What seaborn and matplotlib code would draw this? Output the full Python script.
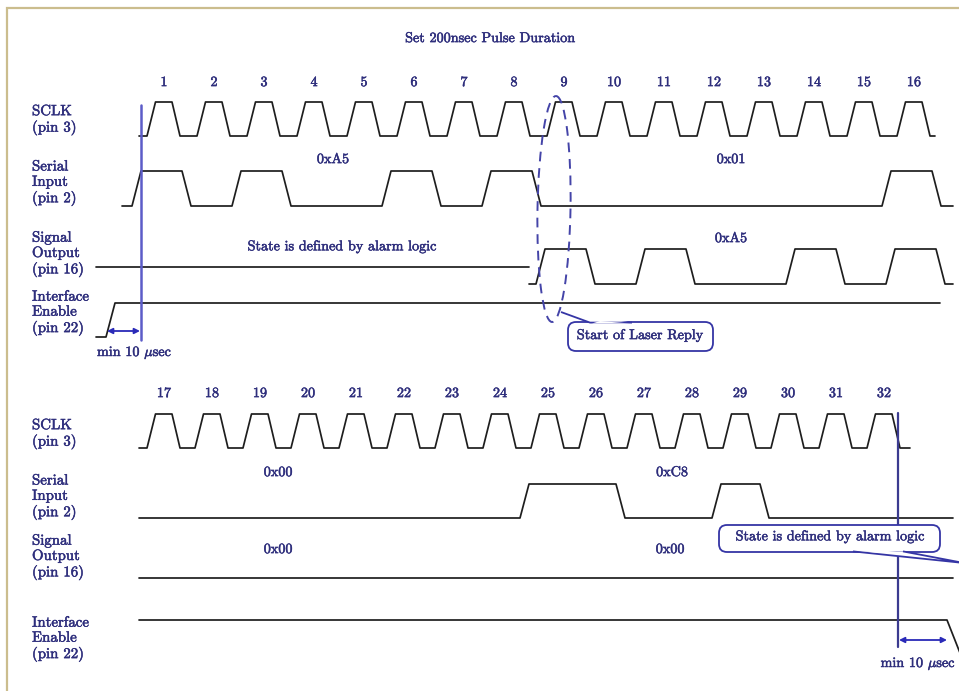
import numpy as np
import pandas as pd
import matplotlib
matplotlib.use("Agg")
import matplotlib.pyplot as plt
import matplotlib.patheffects as pe
import seaborn as sns
from matplotlib.patches import Ellipse, FancyBboxPatch, Polygon

# ---------------- data ----------------
title = "Set 200nsec Pulse Duration"
clock_top = list(range(1, 17))
clock_bottom = list(range(17, 33))
serial_in_top = [1, 0, 1, 0, 0, 1, 0, 1, 0, 0, 0, 0, 0, 0, 0, 1]      # 0xA5, 0x01
signal_out_top = [1, 0, 1, 0, 0, 1, 0, 1]                              # 0xA5 (clocks 9..16)
serial_in_bottom = [0, 0, 0, 0, 0, 0, 0, 0, 1, 1, 0, 0, 1, 0, 0, 0]   # 0x00, 0xC8
signal_out_bottom = [0] * 16                                           # 0x00, 0x00
bytes_in_top = ["0xA5", "0x01"]
bytes_out_top = ["0xA5"]
bytes_in_bottom = ["0x00", "0xC8"]
bytes_out_bottom = ["0x00", "0x00"]
signal_names = ["SCLK\n(pin 3)", "Serial\nInput\n(pin 2)",
                "Signal\nOutput\n(pin 16)", "Interface\nEnable\n(pin 22)"]
alarm_text = "State is defined by alarm logic"
reply_text = "Start of Laser Reply"
min_text = r"min 10 $\mu$sec"

# ---------------- style ----------------
sns.set_theme(style="white")
plt.rcParams["font.family"] = ["cmr10", "DejaVu Serif"]
plt.rcParams["mathtext.fontset"] = "cm"
plt.rcParams["axes.unicode_minus"] = False

NAVY = "#2e2e7c"
WAVE = "#1e1e1e"
BLUE = "#2a2ab8"
FS = 10.2
FS_NAME = 10.7

fig = plt.figure(figsize=(9.59, 6.91), dpi=100)
ax = fig.add_axes([0, 0, 1, 1])
ax.set_xlim(0, 959)
ax.set_ylim(691, 0)
ax.set_axis_off()


def draw(xs, ys, color=WAVE, lw=1.25, **kw):
    sns.lineplot(x=xs, y=ys, sort=False, estimator=None, color=color,
                 lw=lw, ax=ax, **kw)


def clock_wave(n, x0, T, lo, hi, start, end):
    xs, ys = [start], [lo]
    for k in range(n):
        a = x0 + k * T
        xs += [a, a + 8.5, a + 25, a + 33]
        ys += [lo, hi, hi, lo]
    xs.append(end)
    ys.append(lo)
    return xs, ys


def data_wave(bits, x0, T, lo, hi, start, end, ramp=9):
    lvl = {0: lo, 1: hi}
    cur = 0
    xs, ys = [start], [lo]
    for k, b in enumerate(list(bits) + [0]):
        if b != cur:
            a = x0 + k * T
            xs += [a, a + ramp]
            ys += [lvl[cur], lvl[b]]
            cur = b
    xs.append(end)
    ys.append(lo)
    return xs, ys


STROKE = [pe.withStroke(linewidth=0.35, foreground=NAVY)]


def label(x, y, s, ha="center", va="center", fs=FS, color=NAVY, **kw):
    ax.text(x, y, s, ha=ha, va=va, fontsize=fs, color=color, zorder=6,
            path_effects=STROKE, **kw)


# border
ax.plot([7, 7, 959], [691, 8, 8], color="#cbbd8e", lw=1.6, solid_joinstyle="miter")

# title
label(490, 39, title)

# ---------------- top panel ----------------
T1 = 50
for k, c in enumerate(clock_top):
    label(164 + k * T1, 83, str(c))
for s, y in zip(signal_names, [120, 183, 254, 313]):
    label(32, y, s, ha="left", fs=FS_NAME, linespacing=1.12)

xs, ys = clock_wave(len(clock_top), 147, T1, 136, 102, 139, 935)
draw(xs, ys)
xs, ys = data_wave(serial_in_top, 132, T1, 206, 171, 122, 953)
draw(xs, ys)
# undefined output state, then data
draw([96, 529], [267, 267])
xs, ys = data_wave(signal_out_top, 536, T1, 284, 249, 529, 953)
draw(xs, ys)
# interface enable
draw([96, 106, 115, 940], [337, 337, 303, 303])

label(333, 160, bytes_in_top[0])
label(731, 160, bytes_in_top[1])
label(731, 239, bytes_out_top[0])
label(342, 247, alarm_text)

# min 10 usec marker
draw([141, 141], [105, 340], color="#5c5cc8", lw=1.8)
ax.annotate("", xy=(107, 331), xytext=(140, 331),
            arrowprops=dict(arrowstyle="<|-|>", color=BLUE, lw=1.3,
                            mutation_scale=8, shrinkA=0, shrinkB=0))
label(97, 353, min_text, ha="left")

# dashed ellipse + callout
ax.add_patch(Ellipse((554, 209), 33, 226, angle=1, fill=False,
                     ec="#4444a8", lw=1.4, ls=(0, (5, 3.5)), zorder=5))
box = FancyBboxPatch((568, 322), 145, 29,
                     boxstyle="round,pad=0,rounding_size=8",
                     fc="white", ec="#3535a5", lw=1.3, zorder=4)
ax.add_patch(box)
ax.add_patch(Polygon([[561, 312], [590, 322.6], [632, 322.6]], closed=False,
                     fc="white", ec="#3535a5", lw=1.3, zorder=4.5))
ax.add_patch(Polygon([[592, 323.5], [630, 323.5], [600, 321]], closed=True,
                     fc="white", ec="none", zorder=4.6))
label(640, 336, reply_text)

# ---------------- bottom panel ----------------
T2 = 48
for k, c in enumerate(clock_bottom):
    label(164 + k * T2, 394, str(c))
for s, y in zip(signal_names, [434, 497, 557, 639]):
    label(32, y, s, ha="left", fs=FS_NAME, linespacing=1.12)

xs, ys = clock_wave(len(clock_bottom), 147, T2, 448, 414, 139, 910)
draw(xs, ys)
xs, ys = data_wave(serial_in_bottom, 136, T2, 518, 484, 139, 953)
draw(xs, ys)
xs, ys = data_wave(signal_out_bottom, 136, T2, 578, 578, 139, 953)
draw(xs, ys)
draw([139, 947, 962], [620, 620, 658])

label(278, 473, bytes_in_bottom[0])
label(672, 473, bytes_in_bottom[1])
label(278, 550, bytes_out_bottom[0])
label(670, 550, bytes_out_bottom[1])

draw([898, 898], [413, 647], color="#3b3b90", lw=1.6)
ax.annotate("", xy=(899, 640), xytext=(947, 640),
            arrowprops=dict(arrowstyle="<|-|>", color=BLUE, lw=1.3,
                            mutation_scale=8, shrinkA=0, shrinkB=0))
label(956, 664, min_text, ha="right")

box2 = FancyBboxPatch((719, 525), 221, 27,
                      boxstyle="round,pad=0,rounding_size=8",
                      fc="white", ec="#3535a5", lw=1.3, zorder=4)
ax.add_patch(box2)
ax.add_patch(Polygon([[853, 551.4], [964, 563], [903, 551.4]], closed=False,
                     fc="white", ec="#3535a5", lw=1.3, zorder=4.5))
ax.add_patch(Polygon([[855, 550.5], [901, 550.5], [880, 553]], closed=True,
                     fc="white", ec="none", zorder=4.6))
label(830, 537, alarm_text)

fig.savefig("out.png", dpi=100, facecolor="white")
